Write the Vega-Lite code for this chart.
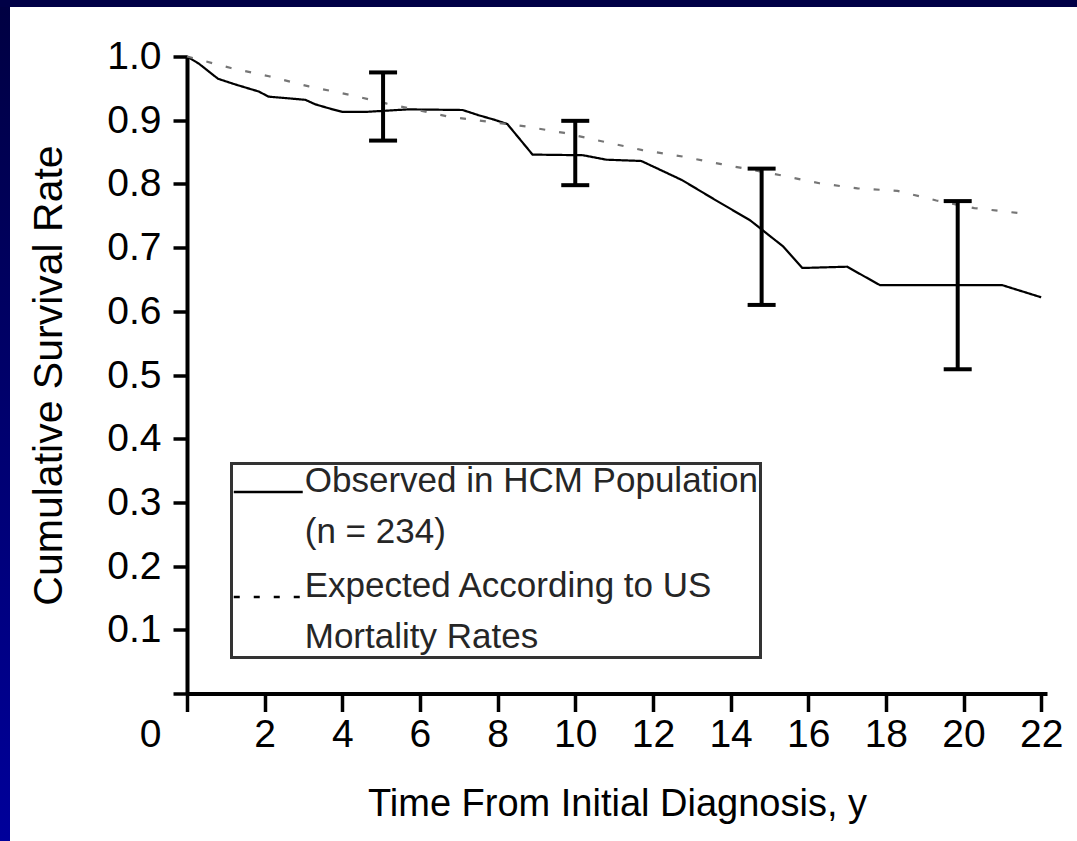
{
  "$schema": "https://vega.github.io/schema/vega-lite/v6.json",
  "padding": 0,
  "background": "white",
  "spacing": 0,
  "config": {
    "view": {"stroke": null},
    "style": {"guide-label": {"lineHeight": 51}},
    "legend": {"strokeWidth": 3}
  },
  "datasets": {
    "curves": [
      {"series": "Observed in HCM Population (n = 234)", "t": 0, "s": 1.0},
      {"series": "Observed in HCM Population (n = 234)", "t": 0.3, "s": 0.989},
      {"series": "Observed in HCM Population (n = 234)", "t": 0.8, "s": 0.965},
      {"series": "Observed in HCM Population (n = 234)", "t": 1.25, "s": 0.956},
      {"series": "Observed in HCM Population (n = 234)", "t": 1.85, "s": 0.945},
      {"series": "Observed in HCM Population (n = 234)", "t": 2.1, "s": 0.937},
      {"series": "Observed in HCM Population (n = 234)", "t": 3.05, "s": 0.932},
      {"series": "Observed in HCM Population (n = 234)", "t": 3.3, "s": 0.925},
      {"series": "Observed in HCM Population (n = 234)", "t": 3.75, "s": 0.917},
      {"series": "Observed in HCM Population (n = 234)", "t": 4.0, "s": 0.913},
      {"series": "Observed in HCM Population (n = 234)", "t": 4.6, "s": 0.913},
      {"series": "Observed in HCM Population (n = 234)", "t": 5.7, "s": 0.917},
      {"series": "Observed in HCM Population (n = 234)", "t": 7.1, "s": 0.916},
      {"series": "Observed in HCM Population (n = 234)", "t": 7.5, "s": 0.908},
      {"series": "Observed in HCM Population (n = 234)", "t": 7.9, "s": 0.901},
      {"series": "Observed in HCM Population (n = 234)", "t": 8.25, "s": 0.894},
      {"series": "Observed in HCM Population (n = 234)", "t": 8.9, "s": 0.846},
      {"series": "Observed in HCM Population (n = 234)", "t": 10.2, "s": 0.845},
      {"series": "Observed in HCM Population (n = 234)", "t": 10.8, "s": 0.838},
      {"series": "Observed in HCM Population (n = 234)", "t": 11.7, "s": 0.836},
      {"series": "Observed in HCM Population (n = 234)", "t": 12.75, "s": 0.806},
      {"series": "Observed in HCM Population (n = 234)", "t": 13.6, "s": 0.775},
      {"series": "Observed in HCM Population (n = 234)", "t": 14.5, "s": 0.743},
      {"series": "Observed in HCM Population (n = 234)", "t": 15.35, "s": 0.702},
      {"series": "Observed in HCM Population (n = 234)", "t": 15.85, "s": 0.668},
      {"series": "Observed in HCM Population (n = 234)", "t": 17.0, "s": 0.67},
      {"series": "Observed in HCM Population (n = 234)", "t": 17.85, "s": 0.641},
      {"series": "Observed in HCM Population (n = 234)", "t": 21.0, "s": 0.641},
      {"series": "Observed in HCM Population (n = 234)", "t": 22.0, "s": 0.622},
      {"series": "Expected According to US Mortality Rates", "t": 0, "s": 1.0},
      {"series": "Expected According to US Mortality Rates", "t": 1.13, "s": 0.982},
      {"series": "Expected According to US Mortality Rates", "t": 2.11, "s": 0.969},
      {"series": "Expected According to US Mortality Rates", "t": 3.14, "s": 0.953},
      {"series": "Expected According to US Mortality Rates", "t": 4.18, "s": 0.94},
      {"series": "Expected According to US Mortality Rates", "t": 5.15, "s": 0.926},
      {"series": "Expected According to US Mortality Rates", "t": 6.7, "s": 0.906},
      {"series": "Expected According to US Mortality Rates", "t": 8.74, "s": 0.89},
      {"series": "Expected According to US Mortality Rates", "t": 9.72, "s": 0.88},
      {"series": "Expected According to US Mortality Rates", "t": 10.75, "s": 0.866},
      {"series": "Expected According to US Mortality Rates", "t": 11.73, "s": 0.853},
      {"series": "Expected According to US Mortality Rates", "t": 12.76, "s": 0.843},
      {"series": "Expected According to US Mortality Rates", "t": 13.76, "s": 0.831},
      {"series": "Expected According to US Mortality Rates", "t": 15.26, "s": 0.814},
      {"series": "Expected According to US Mortality Rates", "t": 16.29, "s": 0.801},
      {"series": "Expected According to US Mortality Rates", "t": 17.27, "s": 0.793},
      {"series": "Expected According to US Mortality Rates", "t": 18.3, "s": 0.789},
      {"series": "Expected According to US Mortality Rates", "t": 19.3, "s": 0.774},
      {"series": "Expected According to US Mortality Rates", "t": 20.28, "s": 0.762},
      {"series": "Expected According to US Mortality Rates", "t": 21.6, "s": 0.753}
    ],
    "errors": [
      {"t": 5.05, "lo": 0.868, "hi": 0.975},
      {"t": 10.0, "lo": 0.798, "hi": 0.899},
      {"t": 14.8, "lo": 0.61, "hi": 0.824},
      {"t": 19.85, "lo": 0.509, "hi": 0.773}
    ],
    "pad": [{"k": 1}]
  },
  "vconcat": [
    {
      "width": 1077,
      "height": 7,
      "data": {"name": "pad"},
      "mark": {"type": "rect", "color": "#000046", "strokeWidth": 0},
      "encoding": {}
    },
    {
      "hconcat": [
        {
          "width": 10,
          "height": 866,
          "data": {"name": "pad"},
          "mark": {
            "type": "rect",
            "strokeWidth": 0,
            "color": {
              "gradient": "linear",
              "x1": 0, "y1": 0, "x2": 0, "y2": 1,
              "stops": [
                {"offset": 0, "color": "#000042"},
                {"offset": 1, "color": "#00009e"}
              ]
            }
          },
          "encoding": {}
        },
        {
          "width": 860,
          "height": 637,
          "layer": [
            {
              "data": {"name": "curves"},
              "mark": {"type": "line", "strokeWidth": 2.2},
              "encoding": {
                "x": {
                  "field": "t", "type": "quantitative",
                  "scale": {"domain": [0, 22.15], "nice": false, "zero": false},
                  "axis": {
                    "values": [0, 2, 4, 6, 8, 10, 12, 14, 16, 18, 20, 22],
                    "grid": false,
                    "domainColor": "black", "domainWidth": 4,
                    "tickColor": "black", "tickWidth": 3.5, "tickSize": 18,
                    "labelFont": "Liberation Sans, Arial, sans-serif",
                    "labelFontSize": 39, "labelColor": "black",
                    "labelPadding": 4, "labelFlush": false, "labelOverlap": false,
                    "labelAlign": {"expr": "datum.value == 0 ? 'right' : 'center'"},
                    "labelOffset": {"expr": "datum.value == 0 ? -26 : 0"},
                    "title": "Time From Initial Diagnosis, y",
                    "titleFont": "Liberation Sans, Arial, sans-serif",
                    "titleFontSize": 38, "titleFontWeight": "normal", "titleColor": "black",
                    "titlePadding": 31
                  }
                },
                "y": {
                  "field": "s", "type": "quantitative",
                  "scale": {"domain": [0, 1], "nice": false, "zero": false},
                  "axis": {
                    "values": [0, 0.1, 0.2, 0.3, 0.4, 0.5, 0.6, 0.7, 0.8, 0.9, 1.0],
                    "labelExpr": "datum.value == 0 ? '' : format(datum.value, '.1f')",
                    "grid": false,
                    "domainColor": "black", "domainWidth": 4,
                    "tickColor": "black", "tickWidth": 3.5, "tickSize": 14,
                    "labelFont": "Liberation Sans, Arial, sans-serif",
                    "labelFontSize": 39, "labelColor": "black",
                    "labelPadding": 12, "labelFlush": false, "labelOverlap": false,
                    "title": "Cumulative Survival Rate",
                    "titleFont": "Liberation Sans, Arial, sans-serif",
                    "titleFontSize": 41, "titleFontWeight": "normal", "titleColor": "black",
                    "titlePadding": 36
                  }
                },
                "color": {
                  "condition": {"test": "datum.series == 'Expected According to US Mortality Rates'", "value": "#767676"},
                  "value": "#000000"
                },
                "strokeDash": {
                  "field": "series", "type": "nominal",
                  "scale": {
                    "domain": ["Observed in HCM Population (n = 234)", "Expected According to US Mortality Rates"],
                    "range": [[1, 0], [6, 14]]
                  },
                  "legend": {
                    "orient": "none",
                    "legendX": 231.5,
                    "legendY": 463.5,
                    "title": null,
                    "symbolType": "M-1.38,0H1.38",
                    "symbolSize": 2500,
                    "symbolOffset": 8.25,
                    "symbolStrokeWidth": 2.5,
                    "symbolStrokeColor": "black",
                    "labelFont": "Liberation Sans, Arial, sans-serif",
                    "labelFontSize": 35,
                    "labelColor": "#262626",
                    "labelLimit": 2000,
                    "labelBaseline": "alphabetic",
                    "labelOffset": 10,
                    "labelExpr": "datum.label == 'Observed in HCM Population (n = 234)' ? ['Observed in HCM Population', '(n = 234)'] : ['Expected According to US', 'Mortality Rates']",
                    "padding": 2,
                    "rowPadding": 18,
                    "strokeColor": "#333333"
                  }
                }
              }
            },
            {
              "data": {"name": "errors"},
              "mark": {"type": "rule", "strokeWidth": 4, "color": "black"},
              "encoding": {
                "x": {"field": "t", "type": "quantitative"},
                "y": {"field": "lo", "type": "quantitative"},
                "y2": {"field": "hi"}
              }
            },
            {
              "data": {"name": "errors"},
              "mark": {"type": "tick", "orient": "horizontal", "size": 28, "thickness": 4, "color": "black", "opacity": 1},
              "encoding": {
                "x": {"field": "t", "type": "quantitative"},
                "y": {"field": "hi", "type": "quantitative"}
              }
            },
            {
              "data": {"name": "errors"},
              "mark": {"type": "tick", "orient": "horizontal", "size": 28, "thickness": 4, "color": "black", "opacity": 1},
              "encoding": {
                "x": {"field": "t", "type": "quantitative"},
                "y": {"field": "lo", "type": "quantitative"}
              }
            }
          ]
        }
      ],
      "spacing": 18,
      "center": true
    }
  ]
}
